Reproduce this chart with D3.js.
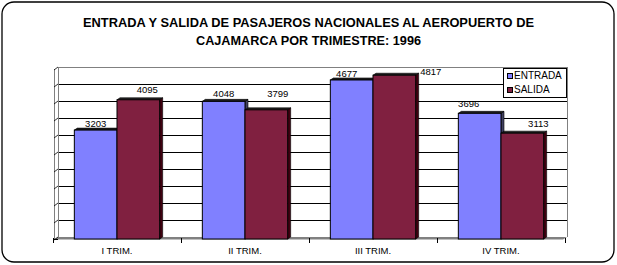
<!DOCTYPE html>
<html>
<head>
<meta charset="utf-8">
<script src="https://cdn.jsdelivr.net/npm/d3@7"></script>
<style>
  html, body { margin: 0; padding: 0; background: #fff; }
  svg { display: block; }
  text { font-family: "Liberation Sans", Arial, sans-serif; }
</style>
</head>
<body>
<svg id="chart" width="617" height="265"></svg>
<script>
// ---- data ----
const titleLines = ["ENTRADA Y SALIDA DE PASAJEROS NACIONALES AL AEROPUERTO DE", "CAJAMARCA POR TRIMESTRE: 1996"];
const categories = ["I TRIM.", "II TRIM.", "III TRIM.", "IV TRIM."];
const seriesNames = ["ENTRADA", "SALIDA"];
const entrada = [3203, 4048, 4677, 3696];
const salida = [4095, 3799, 4817, 3113];
const yTicks = [0, 500, 1000, 1500, 2000, 2500, 3000, 3500, 4000, 4500, 5000];

// ---- style ----
const fills = { ENTRADA: "#8080FF", SALIDA: "#802040" };
const sides = { ENTRADA: "#404060", SALIDA: "#400010" };
// label offsets (style) relative to bar centre / bar top
const labelDx = { ENTRADA: [0, 0, -5, -11], SALIDA: [9, 11.5, 36.5, 16] };
const labelDy = { ENTRADA: [-3, -4.5, -3, -6], SALIDA: [-6.5, -13, 0, -6] };

const svg = d3.select("#chart");
svg.append("rect").attr("width", 617).attr("height", 265).attr("fill", "#fff");

// frame
svg.append("rect").attr("x", 2).attr("y", 2).attr("width", 612).attr("height", 260)
  .attr("rx", 12).attr("ry", 12).attr("fill", "none").attr("stroke", "#000").attr("stroke-width", 1.3);

// title
const tW = [451, 225];
titleLines.forEach((t, i) => {
  svg.append("text").attr("x", 308.5).attr("y", 27 + i * 18)
    .attr("text-anchor", "middle")
    .style("font-family", "'Liberation Sans Narrow', 'Arial Narrow', 'Liberation Sans', Arial, sans-serif")
    .style("font-weight", "bold").style("font-size", "13px")
    .attr("textLength", tW[i]).attr("lengthAdjust", "spacingAndGlyphs")
    .text(t);
});

// scales
const x0 = d3.scaleBand().domain(categories).range([53, 565]).paddingInner(0).paddingOuter(0);
const x1 = d3.scaleBand().domain(seriesNames).range([0, x0.bandwidth()]).paddingInner(0).paddingOuter(0.5);
const y = d3.scaleLinear().domain([0, 5000]).range([239, 69]);

const dX = 4, dY = 2; // 3D depth offset
const wallL = 58, wallR = 567;

// back wall gridlines
const g = svg.append("g");
yTicks.slice(1, -1).forEach(v => {
  g.append("line").attr("x1", wallL).attr("x2", wallR)
    .attr("y1", Math.round(y(v) - dY) + 0.5).attr("y2", Math.round(y(v) - dY) + 0.5)
    .attr("stroke", "#000").attr("stroke-width", 1);
});
// top edge of wall
g.append("line").attr("x1", wallL).attr("x2", wallR)
  .attr("y1", y(5000) - dY + 0.5).attr("y2", y(5000) - dY + 0.5)
  .attr("stroke", "#808080");
// left wall edge & right wall edge
g.append("line").attr("x1", wallL + 0.5).attr("x2", wallL + 0.5)
  .attr("y1", y(5000) - dY).attr("y2", y(0) - dY).attr("stroke", "#808080");
g.append("line").attr("x1", wallR + 0.5).attr("x2", wallR + 0.5)
  .attr("y1", y(5000) - dY).attr("y2", y(0) - dY).attr("stroke", "#808080");
// floor
g.append("polygon")
  .attr("points", [[wallL, y(0) - dY], [wallR, y(0) - dY], [wallR - dX, y(0) + 0.5], [wallL - dX, y(0) + 0.5]].map(p => p.join(",")).join(" "))
  .attr("fill", "#808080");
// front value axis
g.append("line").attr("x1", 54.5).attr("x2", 54.5)
  .attr("y1", y(5000)).attr("y2", y(0) + 1).attr("stroke", "#808080");
yTicks.forEach(v => {
  g.append("line").attr("x1", 54).attr("y1", y(v) + 1)
    .attr("x2", wallL).attr("y2", y(v) - dY).attr("stroke", "#000").attr("stroke-width", 0.8);
});
// category axis baseline & ticks
g.append("line").attr("x1", 53).attr("x2", wallL).attr("y1", 239.5).attr("y2", 239.5).attr("stroke", "#000");
categories.concat([null]).forEach((c, i) => {
  const xx = c ? x0(c) : x0.range()[1];
  g.append("line").attr("x1", Math.round(xx) + 0.5).attr("x2", Math.round(xx) + 0.5)
    .attr("y1", 238).attr("y2", 243).attr("stroke", "#000");
});

// bars
const bars = svg.append("g");
const seriesVals = { ENTRADA: entrada, SALIDA: salida };
categories.forEach((c, ci) => {
  seriesNames.forEach(s => {
    const v = seriesVals[s][ci];
    const bx = x0(c) + x1(s), bw = x1.bandwidth();
    const top = y(v), bot = y(0);
    // side face
    bars.append("polygon")
      .attr("points", [[bx + bw, top], [bx + bw + dX - 1, top - dY], [bx + bw + dX - 1, bot - dY], [bx + bw, bot]].map(p => p.join(",")).join(" "))
      .attr("fill", sides[s]).attr("stroke", "#000").attr("stroke-width", 0.6);
    // top face
    bars.append("polygon")
      .attr("points", [[bx, top], [bx + dX - 1, top - dY], [bx + bw + dX - 1, top - dY], [bx + bw, top]].map(p => p.join(",")).join(" "))
      .attr("fill", "#202020").attr("stroke", "#000").attr("stroke-width", 0.6);
    // front
    bars.append("rect").attr("x", bx).attr("y", top).attr("width", bw).attr("height", bot - top)
      .attr("fill", fills[s]).attr("stroke", "#000").attr("stroke-width", 1);
  });
});

// value labels
categories.forEach((c, ci) => {
  seriesNames.forEach(s => {
    const v = seriesVals[s][ci];
    const cx = x0(c) + x1(s) + x1.bandwidth() / 2;
    svg.append("text").attr("x", cx + labelDx[s][ci]).attr("y", y(v) + labelDy[s][ci])
      .attr("text-anchor", "middle").style("font-size", "9.5px").attr("fill", "#000")
      .text(v);
  });
});

// category labels via axis
const ax = svg.append("g").attr("transform", "translate(0,244)")
  .call(d3.axisBottom(x0).tickSize(0).tickPadding(0));
ax.select(".domain").remove();
ax.selectAll("text").attr("dy", "10px").style("font-size", "9.5px")
  .style("font-family", "'Liberation Sans', Arial, sans-serif").attr("fill", "#000");

// legend
const lg = svg.append("g");
lg.append("rect").attr("x", 503.5).attr("y", 68.5).attr("width", 63).attr("height", 29)
  .attr("fill", "#fff").attr("stroke", "#000");
seriesNames.forEach((s, i) => {
  lg.append("rect").attr("x", 507.5).attr("y", 73.5 + i * 14).attr("width", 5).attr("height", 5)
    .attr("fill", fills[s]).attr("stroke", "#000");
  lg.append("text").attr("x", 514).attr("y", 79 + i * 14).style("font-size", "10px").text(s);
});
</script>
</body>
</html>
